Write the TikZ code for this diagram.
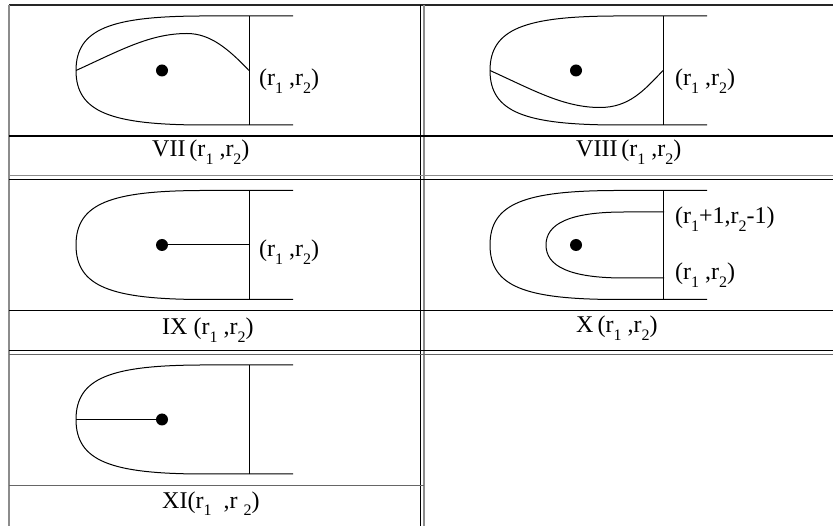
\documentclass[tikz,border=0pt]{standalone}
\usepackage{fontspec}
\setmainfont{Liberation Serif}
\newcommand{\lowidx}[1]{\raisebox{-7.5pt}{\fontsize{16}{16}\selectfont #1}}

\begin{document}
\begin{tikzpicture}[x=1pt,y=-1pt,
    rule/.style={line width=1.2pt,black},
    greyrule/.style={line width=1.8pt,black!45},
    pin/.style={line width=1pt},
    lbl/.style={anchor=base west,inner sep=0pt,font=\fontsize{24}{26}\selectfont}]
    \useasboundingbox (0,0) rectangle (833,526);
    \draw[line width=1.5pt,black!85] (9,5)--(833,5);
    \draw[greyrule,line width=1.5pt] (9,5)--(9,526);
    \draw[rule,line width=1pt] (420,5)--(420,526);
    \draw[greyrule] (424,5)--(424,526);
    \draw[rule] (9,136)--(833,136);
    \draw[greyrule] (9,175.5)--(833,175.5);
    \draw[rule,line width=.8pt] (9,179)--(833,179);
    \draw[rule,line width=1pt] (9,311)--(833,311);
    \draw[rule,line width=1pt] (9,351)--(833,351);
    \draw[rule,line width=1pt,black!60] (9,354.5)--(833,354.5);
    \draw[rule,line width=1pt,black!60] (9,485)--(424,485);
    \foreach \cx/\cy in {0/70.5,414/70.5,0/245,414/245,0/419.5} {
      \draw[pin,shift={(\cx,\cy)}] (293,-54.5)--(200,-54.5) .. controls (112,-54) and (76,-42) .. (76,0)
        .. controls (76,42) and (112,54) .. (200,54.5)--(293,54.5);
      \draw[pin,shift={(\cx,\cy)}] (249,-54.5)--(249,54.5);
    }
    \coordinate (d7) at (162,70.5);
    \coordinate (d8) at (576,70.5);
    \coordinate (d9) at (162,245);
    \coordinate (d10) at (576,245);
    \coordinate (d11) at (162,419.5);
    \foreach \d in {d7,d8,d9,d10,d11} \fill (\d) circle (6pt);
    \coordinate (a7) at (76,70.5);
    \coordinate (b7) at (249,70.5);
    \draw[pin] (a7) .. controls (120,50.5) and (150,33.5) .. (187,33.5) .. controls (210,33.5) and (228,48.5) .. (b7);
    \coordinate (a8) at (490,70.5);
    \coordinate (b8) at (663,70.5);
    \draw[pin] (a8) .. controls (534,90.5) and (564,107.5) .. (600,107.5) .. controls (629,107.5) and (644,90.5) .. (b8);
    \coordinate (e9) at (249,245);
    \draw[pin] (d9)--(e9);
    \coordinate (a11) at (76,419.5);
    \draw[pin] (a11)--(d11);
    \draw[pin] (664,212)--(624,212) .. controls (569,212) and (546,224) .. (546,245)
      .. controls (546,266) and (569,278) .. (624,278)--(664,278);
    \node[lbl] (l7) at (259,86) {(r\lowidx{1} ,r\lowidx{2})};
    \node[lbl] (l8) at (675,86) {(r\lowidx{1} ,r\lowidx{2})};
    \node[lbl] (l9) at (259,257) {(r\lowidx{1} ,r\lowidx{2})};
    \node[lbl] (l10a) at (675,224) {(r\lowidx{1}+1,r\lowidx{2}-1)};
    \node[lbl] (l10b) at (675,280) {(r\lowidx{1} ,r\lowidx{2})};
    \node[lbl] (c7) at (152,157) {VII\,(r\lowidx{1} ,r\lowidx{2})};
    \node[lbl] (c8) at (576,157) {VIII\,(r\lowidx{1} ,r\lowidx{2})};
    \node[lbl] (c9) at (162,335) {IX (r\lowidx{1} ,r\lowidx{2})};
    \node[lbl] (c10) at (576,333) {X\,(r\lowidx{1} ,r\lowidx{2})};
    \node[lbl] (c11) at (162,508) {XI(r\lowidx{1} \ ,r \lowidx{2})};
  \end{tikzpicture}
\end{document}
